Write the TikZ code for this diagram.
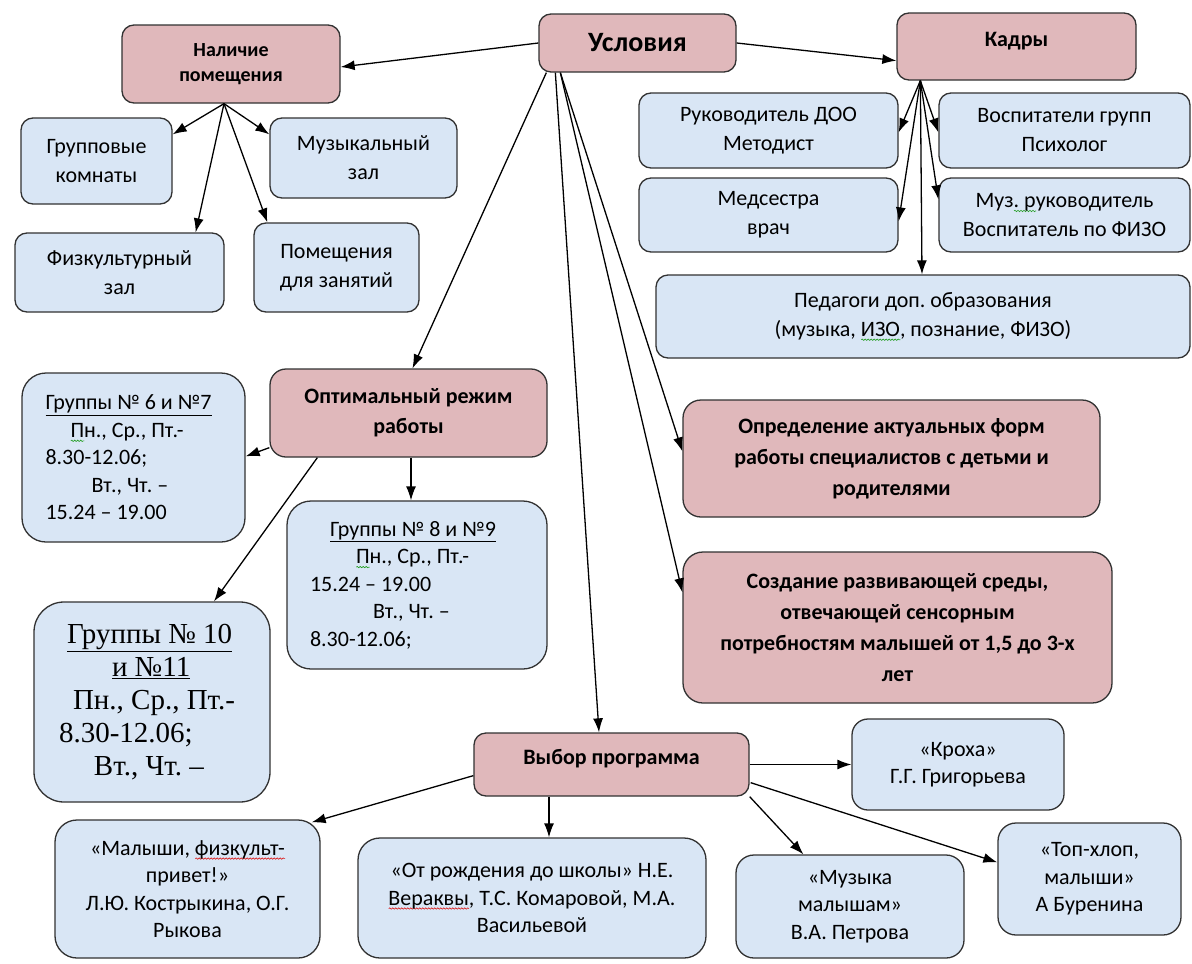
\documentclass[tikz,border=0pt]{standalone}
\usepackage{fontspec}
\setmainfont{Carlito}
\newfontfamily\tnr{Liberation Serif}
\usetikzlibrary{arrows.meta,calc,decorations.pathmorphing}
\frenchspacing
\definecolor{pinkc}{RGB}{224,184,187}
\definecolor{bluec}{RGB}{217,230,245}
\definecolor{bordc}{RGB}{50,50,50}
\definecolor{sqgreen}{RGB}{40,160,40}
\definecolor{sqred}{RGB}{220,30,30}
\tikzset{
  pbox/.style={draw=bordc, line width=1.3pt, fill=pinkc, rounded corners=12pt, inner sep=0pt, align=center,
    font=\bfseries\fontsize{22}{30}\selectfont},
  bbox/.style={draw=bordc, line width=1.3pt, fill=bluec, rounded corners=12pt, inner sep=0pt, align=center,
    font=\fontsize{22}{29}\selectfont},
  sbox/.style={bbox, font=\fontsize{22}{27.5}\selectfont},
  arr/.style={-{Latex[length=14pt,width=10pt]}, line width=1.3pt, draw=black},
}
% spell-check squiggle under a word (path only, no inner node)
\newsavebox\sqbox
\newcommand\sq[2]{\sbox\sqbox{#2}\rlap{\tikz[baseline=0pt]{\path[draw=none,fill=none] (0pt,0pt) -- (\wd\sqbox,0pt);
  \draw[#1, line width=0.6pt, fill=none, sharp corners, decorate, decoration={snake, amplitude=0.7pt, segment length=3pt}]
    (0pt,-3.5pt) -- (\wd\sqbox,-3.5pt);}}\usebox\sqbox}
\begin{document}
\begin{tikzpicture}[x=1pt,y=-1pt]
\fill[white] (0,0) rectangle (1192,964);
\useasboundingbox (0,0) rectangle (1192,964);

% --- pink (main) boxes
\node[pbox, minimum width=197, minimum height=58, font=\bfseries\fontsize{28}{34}\selectfont] (usl) at (637.5,43) {Условия};
\node[pbox, minimum width=218, minimum height=78, font=\bfseries\fontsize{20}{25}\selectfont] (nal) at (231,64) {Наличие\\помещения};
\node[pbox, minimum width=239, minimum height=67, text depth=15pt] (kad) at (1016.5,46.5) {Кадры};
\node[pbox, minimum width=277, minimum height=88, rounded corners=16pt] (opt) at (408.5,413) {Оптимальный режим\\работы};
\node[pbox, minimum width=417, minimum height=117, rounded corners=18pt, font=\bfseries\fontsize{22}{31}\selectfont] (opr) at (891.5,458.5)
  {Определение актуальных форм\\работы специалистов с детьми и\\родителями};
\node[pbox, minimum width=429, minimum height=151, rounded corners=20pt, font=\bfseries\fontsize{22}{31}\selectfont] (soz) at (897.5,627.5)
  {Создание развивающей среды,\\отвечающей сенсорным\\потребностям малышей от 1,5 до 3-х\\лет};
\node[pbox, minimum width=275, minimum height=63, text depth=16pt] (vyb) at (611.5,764.5) {Выбор программа};

% --- rooms
\node[bbox, minimum width=151, minimum height=86] (grp) at (96.5,161) {Групповые\\комнаты};
\node[bbox, minimum width=187, minimum height=80] (muz) at (363.5,158) {Музыкальный\\зал};
\node[bbox, minimum width=209, minimum height=79] (fiz) at (119.5,272.5) {Физкультурный\\зал};
\node[bbox, minimum width=165, minimum height=89] (pom) at (336.5,267.5) {Помещения\\для занятий};

% --- staff
\node[bbox, minimum width=259, minimum height=75] (ruk) at (768.5,130.5) {Руководитель ДОО\\Методист};
\node[bbox, minimum width=251, minimum height=75] (vos) at (1064.5,130.5) {Воспитатели групп\\Психолог};
\node[bbox, minimum width=259, minimum height=74] (med) at (768.5,215) {Медсестра\\врач};
\node[bbox, minimum width=251, minimum height=74] (mzr) at (1064.5,215) {Муз\sq{sqgreen}{. р}уководитель\\Воспитатель по ФИЗО};
\node[bbox, minimum width=534, minimum height=83] (ped) at (923,316.5) {Педагоги доп. образования\\(музыка, \sq{sqgreen}{ИЗО}, познание, ФИЗО)};

% --- groups
\node[sbox, minimum width=223, minimum height=169, rounded corners=24pt, text width=176, align=flush left] (g67) at (133.5,457.5)
  {\underline{Группы № 6 и №7}\\\hspace*{25pt}\sq{sqgreen}{П}н., Ср., Пт.-\\8.30-12.06;\\\hspace*{46pt}Вт., Чт. –\\15.24 – 19.00};
\node[sbox, minimum width=260, minimum height=168, rounded corners=24pt, text width=214, align=flush left] (g89) at (417,585)
  {\hspace*{20pt}\underline{Группы № 8 и №9}\\\hspace*{46pt}\sq{sqgreen}{П}н., Ср., Пт.-\\15.24 – 19.00\\\hspace*{63pt}Вт., Чт. –\\8.30-12.06;};
\node[bbox, minimum width=236, minimum height=200, rounded corners=30pt, text width=186, align=flush left,
  font=\tnr\fontsize{29}{33}\selectfont] (g1011) at (152,702)
  {\hspace*{8pt}\underline{Группы № 10}\\\hspace*{53pt}\underline{и №11}\\\hspace*{14pt}Пн., Ср., Пт.-\\8.30-12.06;\\\hspace*{35pt}Вт., Чт. –};

% --- programmes
\node[sbox, minimum width=212, minimum height=91, rounded corners=16pt] (kro) at (958,764.5) {«Кроха»\\Г.Г. Григорьева};
\node[sbox, minimum width=265, minimum height=138, rounded corners=22pt] (mal) at (187.5,889)
  {«Малыши, \sq{sqred}{физкульт-}\\привет!»\\Л.Ю. Кострыкина, О.Г.\\Рыкова};
\node[sbox, minimum width=348, minimum height=120, rounded corners=22pt] (otr) at (532,898)
  {«От рождения до школы» Н.Е.\\\sq{sqred}{Вераквы}, Т.С. Комаровой, М.А.\\Васильевой};
\node[sbox, minimum width=228, minimum height=103, rounded corners=18pt] (mzm) at (850,906.5) {«Музыка\\малышам»\\В.А. Петрова};
\node[sbox, minimum width=183, minimum height=112, rounded corners=18pt] (top) at (1089.5,879) {«Топ-хлоп,\\малыши»\\А Буренина};

% --- connector start points
\coordinate (u1) at ($(usl.south west)+(8,0)$);
\coordinate (u2) at ($(usl.south west)+(17,0)$);
\coordinate (u3) at ($(usl.south west)+(22,0)$);
\coordinate (nb) at ($(nal.south)+(-7,0)$);
\coordinate (kb) at ($(kad.south west)+(24,0)$);

% --- connectors
\draw[arr] (usl.west) -- ($(nal.east)+(0,3)$);
\draw[arr] (usl.east) -- ($(kad.south west)+(0,-20)$);

\draw[arr] (nb) -- ($(grp.north east)+(0,17)$);
\draw[arr] (nb) -- ($(muz.north west)+(0,17)$);
\draw[arr] (nb) -- ($(fiz.north east)+(-29,0)$);
\draw[arr] (nb) -- ($(pom.north west)+(14,0)$);

\draw[arr] (kb) -- ($(ruk.north east)+(0,40)$);
\draw[arr] (kb) -- ($(vos.north west)+(0,40)$);
\draw[arr] (kb) -- ($(med.north east)+(0,44)$);
\draw[arr] (kb) -- ($(mzr.north west)+(0,22)$);
\draw[arr] (kb) -- ($(ped.north)+(-1,0)$);

\draw[arr] (u1) -- ($(opt.north)+(4,0)$);
\draw[arr] (u2) -- ($(vyb.north)+(-12.5,0)$);
\draw[arr] (u3) -- ($(opr.north west)+(0,52)$);
\draw[arr] (u3) -- ($(soz.north west)+(0,41)$);

\draw[arr] ($(opt.south west)+(0,-10)$) -- ($(g67.north east)+(0,84)$);
\draw[arr] ($(opt.south)+(2.5,0)$) -- ($(g89.north)+(-6,0)$);
\draw[arr] ($(opt.south west)+(48,0)$) -- ($(g1011.north)+(62,0)$);

\draw[arr] ($(vyb.south west)+(0,-21)$) -- ($(mal.north east)+(-9,3)$);
\draw[arr] ($(vyb.south)+(-62.5,0)$) -- ($(otr.north)+(17,0)$);
\draw[arr] (vyb.east) -- (kro.west);
\draw[arr] (vyb.south east) -- ($(mzm.north west)+(68,0)$);
\draw[arr] ($(vyb.south east)+(1,-14)$) -- ($(top.north west)+(0,40)$);
\end{tikzpicture}
\end{document}
